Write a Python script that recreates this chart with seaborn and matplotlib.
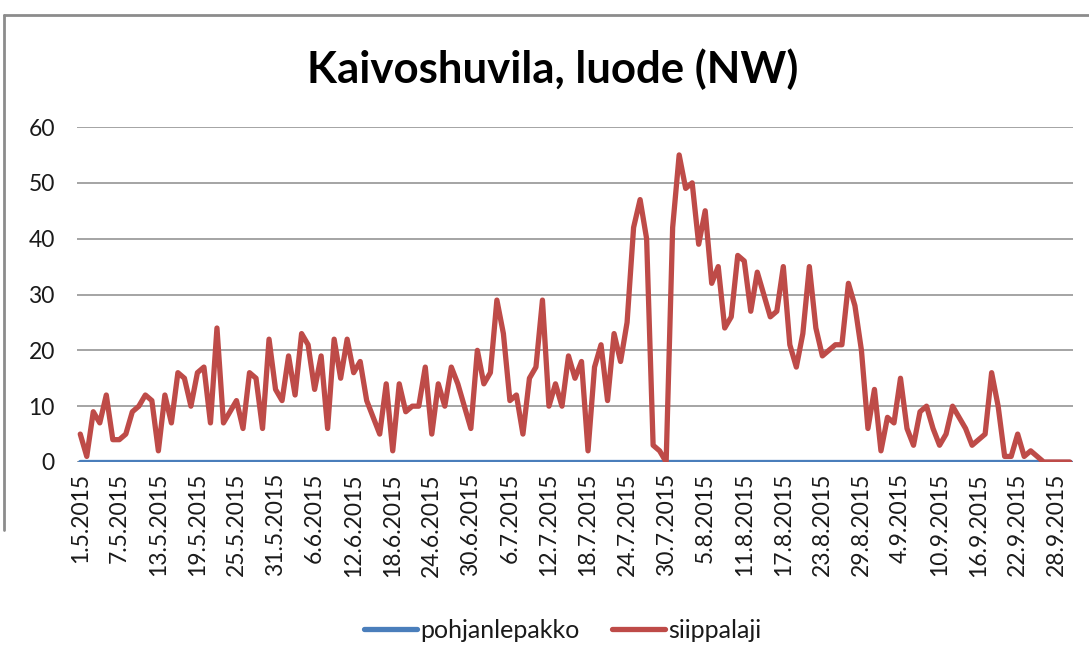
import numpy as np
import pandas as pd
import matplotlib
matplotlib.use("Agg")
import matplotlib.pyplot as plt
from matplotlib.lines import Line2D
import seaborn as sns

# Daily observation counts, 1.5.2015 - 30.9.2015
siippalaji_may = [5, 1, 9, 7, 12, 4, 4, 5, 9, 10, 12, 11, 2, 12, 7, 16, 15, 10, 16, 17,
                  7, 24, 7, 9, 11, 6, 16, 15, 6, 22, 13]
siippalaji_jun = [11, 19, 12, 23, 21, 13, 19, 6, 22, 15, 22, 16, 18, 11, 8, 5, 14, 2, 14, 9,
                  10, 10, 17, 5, 14, 10, 17, 14, 10, 6]
siippalaji_jul = [20, 14, 16, 29, 23, 11, 12, 5, 15, 17, 29, 10, 14, 10, 19, 15, 18, 2, 17, 21,
                  11, 23, 18, 25, 42, 47, 40, 3, 2, 0, 42]
siippalaji_aug = [55, 49, 50, 39, 45, 32, 35, 24, 26, 37, 36, 27, 34, 30, 26, 27, 35, 21, 17, 23,
                  35, 24, 19, 20, 21, 21, 32, 28, 20, 6, 13]
siippalaji_sep = [2, 8, 7, 15, 6, 3, 9, 10, 6, 3, 5, 10, 8, 6, 3, 4, 5, 16, 10, 1,
                  1, 5, 1, 2, 1, 0, 0, 0, 0, 0]

pohjanlepakko_may = [0, 0, 0, 0, 0, 0, 0, 0, 0, 0, 0, 0, 0, 0, 0, 0, 0, 0, 0, 0,
                     0, 0, 0, 0, 0, 0, 0, 0, 0, 0, 0]
pohjanlepakko_jun = [0, 0, 0, 0, 0, 0, 0, 0, 0, 0, 0, 0, 0, 0, 0, 0, 0, 0, 0, 0,
                     0, 0, 0, 0, 0, 0, 0, 0, 0, 0]
pohjanlepakko_jul = [0, 0, 0, 0, 0, 0, 0, 0, 0, 0, 0, 0, 0, 0, 0, 0, 0, 0, 0, 0,
                     0, 0, 0, 0, 0, 0, 0, 0, 0, 0, 0]
pohjanlepakko_aug = [0, 0, 0, 0, 0, 0, 0, 0, 0, 0, 0, 0, 0, 0, 0, 0, 0, 0, 0, 0,
                     0, 0, 0, 0, 0, 0, 0, 0, 0, 0, 0]
pohjanlepakko_sep = [0, 0, 0, 0, 0, 0, 0, 0, 0, 0, 0, 0, 0, 0, 0, 0, 0, 0, 0, 0,
                     0, 0, 0, 0, 0, 0, 0, 0, 0, 0]

tick_labels = ["1.5.2015", "7.5.2015", "13.5.2015", "19.5.2015", "25.5.2015", "31.5.2015",
               "6.6.2015", "12.6.2015", "18.6.2015", "24.6.2015", "30.6.2015", "6.7.2015",
               "12.7.2015", "18.7.2015", "24.7.2015", "30.7.2015", "5.8.2015", "11.8.2015",
               "17.8.2015", "23.8.2015", "29.8.2015", "4.9.2015", "10.9.2015", "16.9.2015",
               "22.9.2015", "28.9.2015"]

series_names = ["pohjanlepakko", "siippalaji"]
series_colors = {"pohjanlepakko": "#4A7EBB", "siippalaji": "#BE4B48"}

siippalaji = siippalaji_may + siippalaji_jun + siippalaji_jul + siippalaji_aug + siippalaji_sep
pohjanlepakko = (pohjanlepakko_may + pohjanlepakko_jun + pohjanlepakko_jul
                 + pohjanlepakko_aug + pohjanlepakko_sep)

days = pd.date_range("2015-05-01", "2015-09-30", freq="D")
day_labels = [f"{d.day}.{d.month}.{d.year}" for d in days]
n = len(days)
pos = np.arange(n)

df = pd.DataFrame({
    "paiva": np.concatenate([pos, pos]),
    "maara": pohjanlepakko + siippalaji,
    "laji": ["pohjanlepakko"] * n + ["siippalaji"] * n,
})

sns.set_theme(style="white")
plt.rcParams["font.family"] = ["Lato", "DejaVu Sans"]

W, H = 1089, 661
fig = plt.figure(figsize=(W / 100, H / 100), dpi=100)
fig.patch.set_facecolor("white")
ax = fig.add_axes([77 / W, 1 - 462 / H, (1073 - 77) / W, (462 - 127) / H])

sns.lineplot(data=df, x="paiva", y="maara", hue="laji", hue_order=series_names,
             palette=series_colors, linewidth=3.8, estimator=None, sort=False,
             legend=False, ax=ax)
for ln in ax.lines:
    ln.set_solid_joinstyle("round")
    ln.set_zorder(3)

ax.set_xlim(-0.5, n - 0.5)
ax.set_ylim(0, 60)
ax.set_yticks(range(0, 61, 10))
ax.set_xticks([day_labels.index(t) for t in tick_labels])
ax.set_xticklabels(tick_labels, rotation=90, fontsize=16.5, color="#1a1a1a")
ax.tick_params(axis="y", labelsize=16.5, labelcolor="#1a1a1a", length=0, pad=16)
ax.tick_params(axis="x", length=0, pad=8)
ax.set_xlabel("")
ax.set_ylabel("")
ax.yaxis.grid(True, color="#8c8c8c", linewidth=1.1)
ax.xaxis.grid(False)
ax.set_axisbelow(True)
for s in ax.spines.values():
    s.set_visible(False)

fig.text(553 / W, 1 - 69 / H, "Kaivoshuvila, luode (NW)", ha="center", va="center",
         fontsize=31.5, fontweight="bold", color="black")

handles = [Line2D([], [], color=series_colors[s], linewidth=3.8) for s in series_names]
fig.legend(handles, series_names, loc="center", bbox_to_anchor=(563 / W, 1 - 630 / H),
           ncol=2, frameon=False, fontsize=18, handlelength=2.1, handletextpad=0.15,
           columnspacing=1.3, labelcolor="#1a1a1a")

# chart frame
fig.add_artist(Line2D([4 / W, 1], [1 - 15 / H, 1 - 15 / H], transform=fig.transFigure,
                      color="#8c8c8c", linewidth=2))
fig.add_artist(Line2D([4 / W, 4 / W], [1 - 15 / H, 1 - 530 / H], transform=fig.transFigure,
                      color="#8c8c8c", linewidth=2))

fig.savefig("out.png", dpi=100)
